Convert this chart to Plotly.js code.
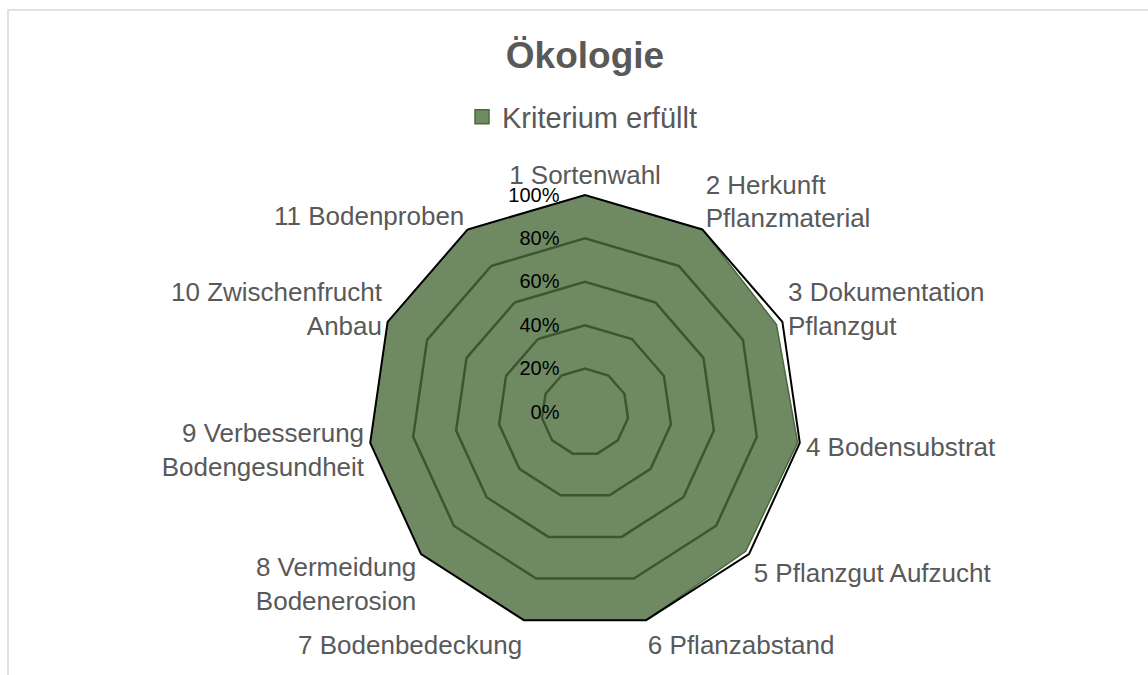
<!DOCTYPE html>
<html>
<head>
<meta charset="utf-8">
<script src="https://cdn.plot.ly/plotly-3.0.1.min.js"></script>
<style>html,body{margin:0;padding:0;background:#fff;}#chart{width:1148px;height:675px;}</style>
</head>
<body>
<div id="chart"></div>
<script>
const categories = [
  "1 Sortenwahl",
  "2 Herkunft<br>Pflanzmaterial",
  "3 Dokumentation<br>Pflanzgut",
  "4 Bodensubstrat",
  "5 Pflanzgut Aufzucht",
  "6 Pflanzabstand",
  "7 Bodenbedeckung",
  "8 Vermeidung<br>Bodenerosion",
  "9 Verbesserung<br>Bodengesundheit",
  "10 Zwischenfrucht<br>Anbau",
  "11 Bodenproben"
];
const values = [1.00, 1.00, 0.97, 0.99, 0.98, 1.00, 1.00, 1.00, 1.00, 1.00, 1.00];
const seriesName = "Kriterium erfüllt";
const radialTicks = [0, 0.2, 0.4, 0.6, 0.8, 1.0];
const radialTickText = ["0%", "20%", "40%", "60%", "80%", "100%"];

const W = 1148, H = 675;
const cx = 585, cy = 412, R = 217;

const fillCol = "rgba(75,107,60,0.80)";
const edgeCol = "#4a6a3d";

const trace = {
  type: "scatterpolar",
  r: values.concat([values[0]]),
  theta: categories.concat([categories[0]]),
  name: seriesName,
  mode: "lines",
  fill: "toself",
  fillcolor: fillCol,
  line: {color: edgeCol, width: 1.5},
  showlegend: false,
  hoverinfo: "skip"
};

const legendTrace = {
  type: "scatterpolar",
  r: [null],
  theta: [categories[0]],
  name: seriesName,
  mode: "markers",
  marker: {symbol: "square", size: 14, color: "#6f8b63", line: {color: edgeCol, width: 1.5}},
  showlegend: true,
  hoverinfo: "skip"
};

const layout = {
  width: W, height: H,
  margin: {l: 0, r: 0, t: 0, b: 0},
  paper_bgcolor: "#ffffff",
  font: {family: "Liberation Sans, Arial, sans-serif", color: "#595959"},
  title: {
    text: "<b>Ökologie</b>",
    font: {size: 37, color: "#595959", family: "Liberation Sans, Arial, sans-serif"},
    x: 585 / W, xanchor: "center",
    y: 1 - 55 / H, yanchor: "middle"
  },
  showlegend: true,
  legend: {
    orientation: "h",
    x: 582 / W, xanchor: "center",
    y: 1 - 117 / H, yanchor: "middle",
    font: {size: 29, color: "#595959"},
    itemwidth: 30
  },
  polar: {
    domain: {x: [(cx - R) / W, (cx + R) / W], y: [1 - (cy + R) / H, 1 - (cy - R) / H]},
    bgcolor: "rgba(0,0,0,0)",
    gridshape: "linear",
    angularaxis: {
      direction: "clockwise",
      rotation: 90,
      showgrid: false,
      showline: true,
      linecolor: "#000000",
      linewidth: 2,
      ticks: "",
      tickfont: {size: 26, color: "#595959", family: "Liberation Sans, Arial, sans-serif"}
    },
    radialaxis: {
      range: [0, 1],
      angle: 90,
      tickvals: radialTicks,
      ticktext: radialTickText,
      showline: false,
      ticks: "outside",
      ticklen: 18,
      tickcolor: "rgba(0,0,0,0)",
      gridcolor: "#000000",
      gridwidth: 2.5,
      side: "counterclockwise",
      tickangle: 90,
      tickfont: {size: 20, color: "#000000", family: "Liberation Sans, Arial, sans-serif"}
    }
  },
  shapes: [{
    type: "rect", xref: "paper", yref: "paper",
    x0: 8 / W, x1: 1.02, y0: -0.02, y1: 1 - 10 / H,
    line: {color: "#d9d9d9", width: 1.5}, fillcolor: "rgba(0,0,0,0)", layer: "below"
  }]
};

Plotly.newPlot("chart", [trace, legendTrace], layout, {displayModeBar: false, staticPlot: true});
</script>
</body>
</html>
